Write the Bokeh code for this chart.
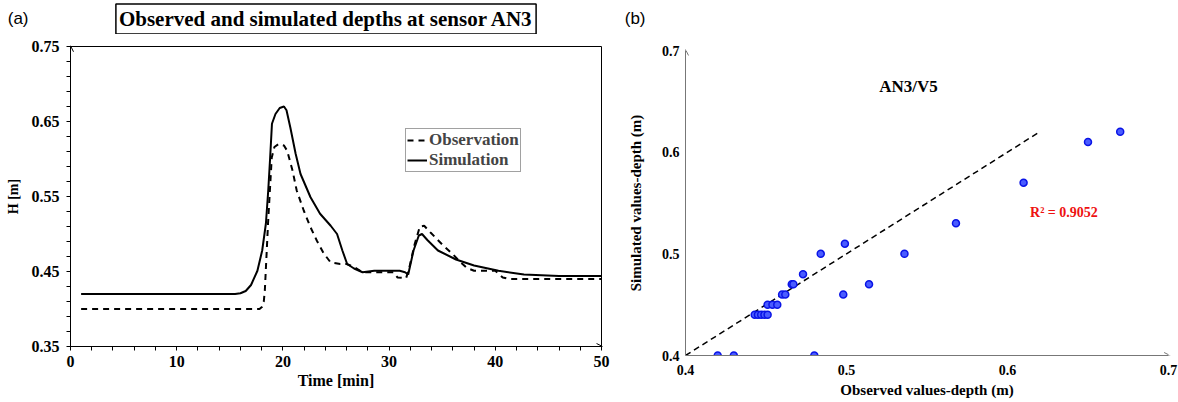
from bokeh.plotting import figure
from bokeh.layouts import row, column
from bokeh.models import FixedTicker, Arrow, OpenHead, Label, Legend, LegendItem, Range1d
from bokeh.embed import file_html
from bokeh.resources import INLINE

SERIF = "Liberation Serif"
SANS = "Liberation Sans"

# ---------------- data: panel (a) ----------------
time_sim = [1, 15.5, 16.0, 16.5, 17.0, 17.6, 18.05, 18.4, 18.62, 18.8, 18.97, 19.3, 19.7, 20.1,
            20.34, 20.7, 21.2, 21.66, 22.6, 23.5, 24.5, 25.1, 25.6, 26.05, 26.7, 27.5, 28.6,
            31.0, 31.5, 31.8, 32.3, 32.8, 33.1, 33.6, 34.6, 36.3, 38.0, 40.3, 42.7, 46.0, 50.0]
depth_sim = [0.42, 0.42, 0.421, 0.424, 0.432, 0.451, 0.478, 0.514, 0.558, 0.602, 0.647, 0.660,
             0.668, 0.670, 0.665, 0.642, 0.607, 0.580, 0.549, 0.527, 0.511, 0.500, 0.478, 0.460,
             0.454, 0.449, 0.451, 0.451, 0.449, 0.446, 0.478, 0.498, 0.500, 0.492, 0.478, 0.466,
             0.458, 0.451, 0.446, 0.444, 0.444]
time_obs = [1, 17.8, 18.05, 18.2, 18.3, 18.6, 18.95, 19.2, 19.6, 20.1, 20.4, 20.9, 21.3, 21.97,
            22.6, 23.2, 23.85, 24.5, 25.4, 26.0, 26.7, 27.5, 30.4, 30.8, 31.6, 31.9, 32.4, 32.9,
            33.3, 33.9, 35.0, 36.0, 36.6, 37.3, 38.0, 40.0, 40.7, 41.3, 50.0]
depth_obs = [0.40, 0.40, 0.403, 0.41, 0.425, 0.514, 0.602, 0.616, 0.620, 0.618, 0.611, 0.585,
             0.558, 0.531, 0.509, 0.491, 0.474, 0.462, 0.460, 0.460, 0.456, 0.449, 0.449, 0.442,
             0.441, 0.455, 0.486, 0.510, 0.511, 0.502, 0.486, 0.473, 0.464, 0.455, 0.451, 0.451,
             0.442, 0.440, 0.440]
a_xticks = [0, 10, 20, 30, 40, 50]
a_xminor = [2, 4, 6, 8, 12, 14, 16, 18, 22, 24, 26, 28, 32, 34, 36, 38, 42, 44, 46, 48]
a_yticks = [0.35, 0.45, 0.55, 0.65, 0.75]
a_yminor = [0.37, 0.39, 0.41, 0.43, 0.47, 0.49, 0.51, 0.53, 0.57, 0.59, 0.61, 0.63,
            0.67, 0.69, 0.71, 0.73]
a_title = "Observed and simulated depths at sensor AN3"
a_tag = "(a)"

# ---------------- data: panel (b) ----------------
observed = [0.42, 0.43, 0.48, 0.443, 0.445, 0.447, 0.449, 0.451, 0.451, 0.454, 0.457,
            0.460, 0.462, 0.466, 0.467, 0.473, 0.484, 0.499, 0.498, 0.514, 0.536, 0.568,
            0.61, 0.65, 0.67]
simulated = [0.40, 0.40, 0.40, 0.44, 0.44, 0.44, 0.44, 0.44, 0.45, 0.45, 0.45,
             0.46, 0.46, 0.47, 0.47, 0.48, 0.50, 0.51, 0.46, 0.47, 0.50, 0.53,
             0.57, 0.61, 0.62]
line_x = [0.4, 0.62]
line_y = [0.4, 0.62]
b_ticks = [0.4, 0.5, 0.6, 0.7]
r2_text = "R² = 0.9052"
b_tag = "(b)"

HEAD = 34          # height of the header strip holding the panel tags / title


def header(width, x0, x1, tag, tag_gap):
    """Header strip; its frame is aligned with the plot below, the panel tag is
    drawn as the single tick label of a hidden left axis."""
    h = figure(width=width, height=HEAD, output_backend="svg", toolbar_location=None,
               x_range=Range1d(x0, x1), y_range=Range1d(0, HEAD),
               min_border_left=0, min_border_right=0, min_border_top=0, min_border_bottom=0)
    h.xaxis.visible = False
    h.grid.visible = False
    h.outline_line_color = None
    h.background_fill_color = "white"
    h.border_fill_color = "white"
    ya = h.yaxis[0]
    ya.ticker = FixedTicker(ticks=[HEAD - 18], minor_ticks=[])
    ya.major_label_overrides = {HEAD - 18: tag}
    ya.axis_line_color = None
    ya.major_tick_line_color = None
    ya.minor_tick_line_color = None
    ya.major_tick_out = 0
    ya.major_tick_in = 0
    ya.major_label_standoff = tag_gap
    ya.major_label_text_font = SANS
    ya.major_label_text_font_size = "17px"
    ya.major_label_text_color = "black"
    return h


# ---------------- header (a) ----------------
h1 = header(620, 70, 601, a_tag, 42)
h1.add_layout(Label(x=325.5, y=HEAD - 18.5, text=a_title, text_font=SERIF,
                    text_font_style="bold", text_font_size="21px", text_align="center",
                    text_baseline="middle", text_color="black",
                    border_line_color="black", border_line_width=1.5,
                    background_fill_color="white", padding=3))

# ---------------- panel (a) ----------------
p1 = figure(width=620, height=402 - HEAD, output_backend="svg", toolbar_location=None,
            x_range=Range1d(0, 50), y_range=Range1d(0.35, 0.75),
            min_border_left=70, min_border_right=19, min_border_top=46 - HEAD,
            min_border_bottom=56)
p1.grid.visible = False
p1.outline_line_color = "black"
p1.outline_line_width = 1
p1.background_fill_color = "white"
p1.border_fill_color = "white"

for ax in (p1.xaxis[0], p1.yaxis[0]):
    ax.axis_line_color = "black"
    ax.major_tick_line_color = "black"
    ax.minor_tick_line_color = "black"
    ax.major_tick_in = 0
    ax.major_tick_out = 4
    ax.minor_tick_in = 0
    ax.minor_tick_out = 4
    ax.major_label_text_font = SERIF
    ax.major_label_text_font_style = "bold"
    ax.major_label_text_font_size = "16px"
    ax.major_label_text_color = "black"
    ax.axis_label_text_font = SERIF
    ax.axis_label_text_font_style = "bold"
    ax.axis_label_text_color = "black"

p1.xaxis.ticker = FixedTicker(ticks=a_xticks, minor_ticks=a_xminor)
p1.yaxis.ticker = FixedTicker(ticks=a_yticks, minor_ticks=a_yminor)
p1.xaxis.axis_label = "Time [min]"
p1.yaxis.axis_label = "H [m]"
p1.xaxis.axis_label_text_font_size = "16px"
p1.yaxis.axis_label_text_font_size = "14px"
p1.xaxis.major_label_standoff = 5
p1.yaxis.major_label_standoff = 7
p1.xaxis.axis_label_standoff = 2
p1.yaxis.axis_label_standoff = 8

r_obs = p1.line(time_obs, depth_obs, line_color="black", line_width=2, line_dash="6 5")
r_sim = p1.line(time_sim, depth_sim, line_color="black", line_width=2)

p1.add_layout(Arrow(end=OpenHead(size=6, line_color="black", line_width=1),
                    x_start=0, y_start=0.74, x_end=0, y_end=0.751,
                    line_color="black", line_width=1))
p1.add_layout(Arrow(end=OpenHead(size=6, line_color="black", line_width=1),
                    x_start=49, y_start=0.35, x_end=50.1, y_end=0.35,
                    line_color="black", line_width=1))

legend = Legend(items=[LegendItem(label="Observation", renderers=[r_obs]),
                       LegendItem(label="Simulation", renderers=[r_sim])],
                location=(335, 174))
legend.label_text_font = SERIF
legend.label_text_font_style = "bold"
legend.label_text_font_size = "17px"
legend.border_line_color = "#444444"
legend.border_line_width = 1
legend.background_fill_color = "white"
legend.background_fill_alpha = 1
legend.glyph_width = 20
legend.glyph_height = 14
legend.label_height = 14
legend.label_standoff = 2
legend.spacing = 0
legend.padding = 1
legend.margin = 0
p1.add_layout(legend)

# ---------------- header (b) ----------------
h2 = header(558, 65, 548, b_tag, 40)

# ---------------- panel (b) ----------------
p2 = figure(width=558, height=402 - HEAD, output_backend="svg", toolbar_location=None,
            x_range=Range1d(0.4, 0.7), y_range=Range1d(0.4, 0.7),
            min_border_left=65, min_border_right=10, min_border_top=50 - HEAD,
            min_border_bottom=47)
p2.grid.visible = False
p2.outline_line_color = None
p2.background_fill_color = "white"
p2.border_fill_color = "white"

for ax in (p2.xaxis[0], p2.yaxis[0]):
    ax.axis_line_color = "#777777"
    ax.axis_line_width = 1
    ax.major_tick_line_color = None
    ax.minor_tick_line_color = None
    ax.major_tick_in = 0
    ax.major_tick_out = 0
    ax.major_label_text_font = SERIF
    ax.major_label_text_font_style = "bold"
    ax.major_label_text_font_size = "14px"
    ax.major_label_text_color = "black"
    ax.axis_label_text_font = SERIF
    ax.axis_label_text_font_style = "bold"
    ax.axis_label_text_font_size = "15px"
    ax.axis_label_text_color = "black"

p2.xaxis.ticker = FixedTicker(ticks=b_ticks)
p2.yaxis.ticker = FixedTicker(ticks=b_ticks)
p2.xaxis.axis_label = "Observed values-depth (m)"
p2.yaxis.axis_label = "Simulated values-depth (m)"
p2.xaxis.major_label_standoff = 9
p2.yaxis.major_label_standoff = 6
p2.xaxis.axis_label_standoff = 4
p2.yaxis.axis_label_standoff = 15

p2.line(line_x, line_y, line_color="black", line_width=1.5, line_dash="6 4")
p2.scatter(observed, simulated, size=7, fill_color="#4a5cff", line_color="#0a14e6",
           line_width=1.5)

p2.add_layout(Arrow(end=OpenHead(size=6, line_color="#777777", line_width=1),
                    x_start=0.4, y_start=0.69, x_end=0.4, y_end=0.701,
                    line_color="#777777", line_width=1))
p2.add_layout(Arrow(end=OpenHead(size=6, line_color="#777777", line_width=1),
                    x_start=0.69, y_start=0.4, x_end=0.701, y_end=0.4,
                    line_color="#777777", line_width=1))

p2.add_layout(Label(x=0.5385, y=0.665, text="AN3/V5", text_font=SERIF,
                    text_font_style="bold", text_font_size="17px", text_align="center",
                    text_baseline="middle", text_color="black"))
p2.add_layout(Label(x=0.614, y=0.541, text=r2_text, text_font=SERIF,
                    text_font_style="bold", text_font_size="14px", text_align="left",
                    text_baseline="middle", text_color="#ee1111"))

layout = row(column(h1, p1), column(h2, p2))
open("out.html", "w").write(file_html(layout, INLINE))
